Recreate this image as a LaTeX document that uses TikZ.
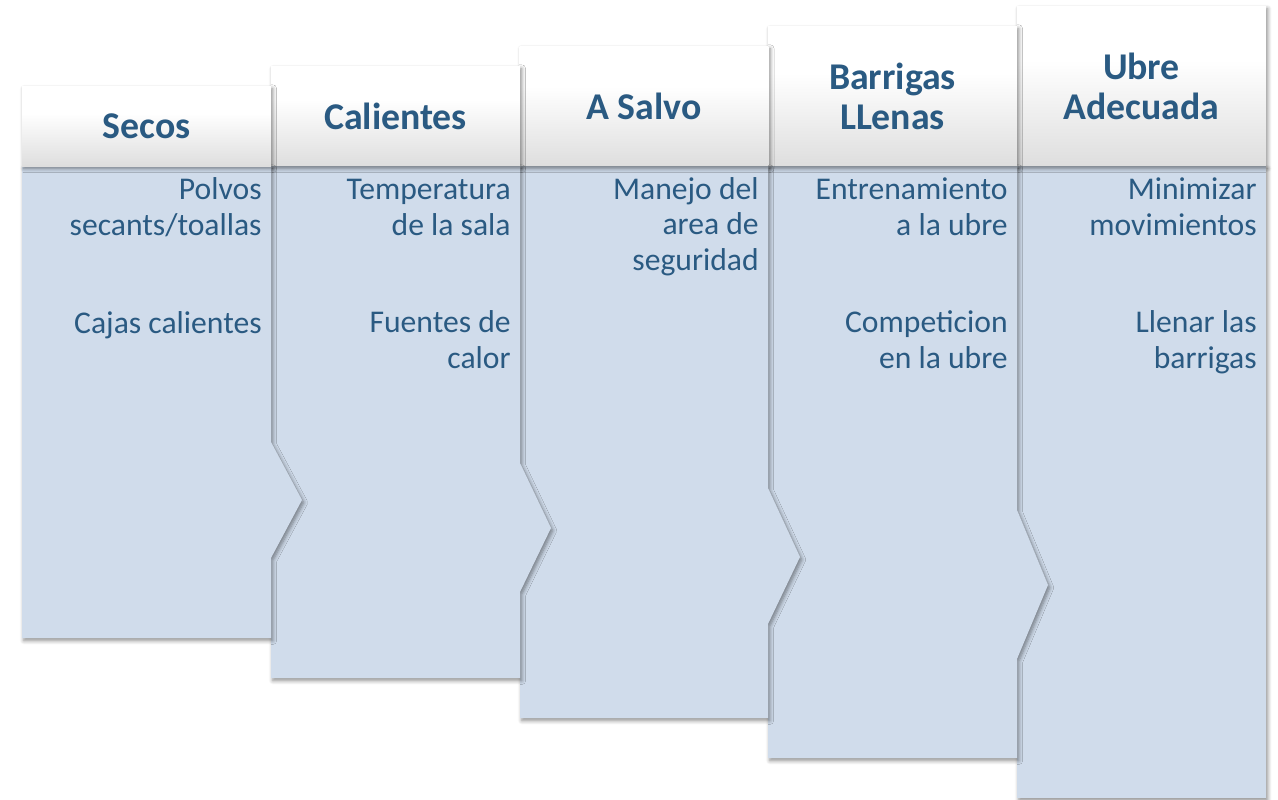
\documentclass[tikz,border=0pt]{standalone}
\usepackage{fontspec}
\setmainfont{Carlito}
\usetikzlibrary{shadows.blur}

\definecolor{stageblue}{HTML}{D0DCEB}
\definecolor{stageink}{HTML}{2A5A82}
\pgfdeclareverticalshading{headshade}{100bp}{color(0bp)=(black!13); color(25bp)=(black!13); color(58bp)=(white); color(100bp)=(white)}

\tikzset{
  softshadow/.style = {blur shadow = {shadow xshift = 1pt, shadow yshift = -1.5pt, shadow blur radius = 2.2pt,
                       shadow blur steps = 6, shadow opacity = 45}},
  stage/.style      = {fill = stageblue, softshadow},
  header/.style     = {shape = rectangle, inner sep = 0pt, minimum width = 4.98cm, shading = headshade,
                       softshadow, text = stageink, align = center,
                       font = \fontsize{21.5}{22.8}\selectfont\bfseries},
  item/.style       = {anchor = base east, inner sep = 0pt, align = right, text = stageink,
                       font = \fontsize{18}{20}\selectfont},
}

\begin{document}
\begin{tikzpicture}[x = 0.02cm, y = -0.02cm]
        \useasboundingbox (0, 0) rectangle (1278, 799);

        % ------------------------------------------------------------------------
        % Ubre Adecuada
        \path[stage] (1017, 166) -- (1266, 166) -- (1266, 798) -- (1017, 798) -- cycle;
        \node[header, minimum height = 3.2cm] at (1141.5, 86) (h5) {Ubre\\Adecuada};
        \node[item] at (1257, 235) (t5a) {Minimizar\\movimientos};
        \node[item] at (1257, 368) (t5b) {Llenar las\\barrigas};

        % ------------------------------------------------------------------------
        % Barrigas LLenas
        \path[stage] (768, 166) -- (1017, 166) -- (1017, 510) -- (1048, 585) -- (1017, 659)
          -- (1017, 758) -- (768, 758) -- cycle;
        \node[header, minimum height = 2.8cm] at (892.5, 96) (h4) {Barrigas\\LLenas};
        \node[item] at (1008, 235) (t4a) {Entrenamiento\\a la ubre};
        \node[item] at (1008, 368) (t4b) {Competicion\\en la ubre};

        % ------------------------------------------------------------------------
        % A Salvo
        \path[stage] (520, 166) -- (768, 166) -- (768, 488) -- (800, 557) -- (768, 624)
          -- (768, 718) -- (520, 718) -- cycle;
        \node[header, minimum height = 2.4cm] at (644, 106) (h3) {A Salvo};
        \node[item] at (759, 270) (t3a) {Manejo del\\area de\\seguridad};

        % ------------------------------------------------------------------------
        % Calientes
        \path[stage] (271, 166) -- (520, 166) -- (520, 463) -- (551, 528) -- (520, 592)
          -- (520, 678) -- (271, 678) -- cycle;
        \node[header, minimum height = 2.0cm] at (395.5, 116) (h2) {Calientes};
        \node[item] at (511, 235) (t2a) {Temperatura\\de la sala};
        \node[item] at (511, 368) (t2b) {Fuentes de\\calor};

        % ------------------------------------------------------------------------
        % Secos
        \path[stage] (22, 166) -- (271, 166) -- (271, 442) -- (302, 500) -- (271, 558)
          -- (271, 638) -- (22, 638) -- cycle;
        \node[header, minimum height = 1.6cm] at (146.5, 126) (h1) {Secos};
        \node[item] at (262, 235) (t1a) {Polvos\\secants/toallas};
        \node[item] at (262, 333) (t1b) {Cajas calientes};
      \end{tikzpicture}
\end{document}
